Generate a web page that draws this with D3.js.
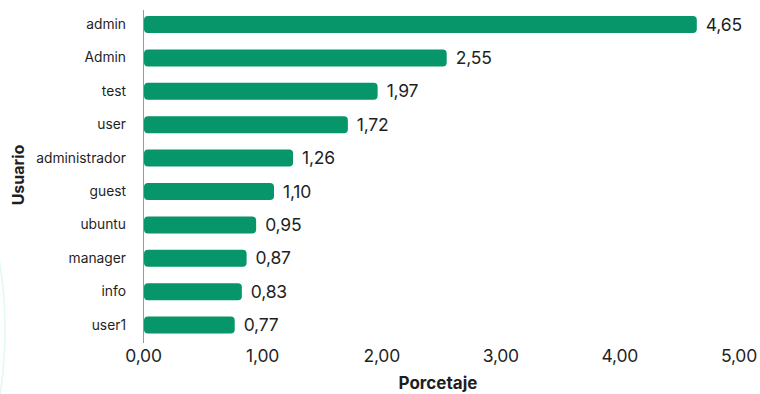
<!DOCTYPE html>
<html>
<head>
<meta charset="utf-8">
<script src="https://cdn.jsdelivr.net/npm/d3@7"></script>
<style>
  body { margin: 0; background: #fff; }
  svg text { font-family: Inter, "Noto Sans", sans-serif; fill: #1f1f1f; }
</style>
</head>
<body>
<div id="chart"></div>
<script>
const width = 760, height = 394;

// data
const usuarios = ["admin", "Admin", "test", "user", "administrador", "guest", "ubuntu", "manager", "info", "user1"];
const porcentajes = [4.65, 2.55, 1.97, 1.72, 1.26, 1.10, 0.95, 0.87, 0.83, 0.77];
const xTicks = [0, 1, 2, 3, 4, 5];

const rows = usuarios.map((u, i) => ({ usuario: u, valor: porcentajes[i] }));
const fmt = v => d3.format(".2f")(v).replace(".", ",");

const svg = d3.select("#chart").append("svg")
    .attr("width", width)
    .attr("height", height);

// faint decorative arc on the left edge
svg.append("circle")
    .attr("cx", -420).attr("cy", 330).attr("r", 425)
    .attr("fill", "none")
    .attr("stroke", "#e4f8ef")
    .attr("stroke-width", 1.5);

const x = d3.scaleLinear().domain([0, 5]).range([143, 738.5]);
const y = d3.scaleBand().domain(usuarios).range([7.8, 341.8]).paddingInner(0.49).paddingOuter(0.245);

// bars
svg.append("g").selectAll("rect")
    .data(rows).enter()
    .append("rect")
    .attr("x", x(0) + 1)
    .attr("y", d => y(d.usuario) + y.bandwidth() / 2 - 8.5)
    .attr("width", d => x(d.valor) - x(0) - 1)
    .attr("height", 17)
    .attr("rx", 4)
    .attr("fill", "#07956a");

// value labels
svg.append("g").selectAll("text")
    .data(rows).enter()
    .append("text")
    .attr("x", d => x(d.valor) + 9)
    .attr("y", d => y(d.usuario) + y.bandwidth() / 2)
    .attr("dy", "0.35em")
    .attr("font-size", 17.5)
    .attr("letter-spacing", -0.2)
    .text(d => fmt(d.valor));

// y axis
const yAxis = svg.append("g")
    .attr("transform", `translate(${x(0)},0)`)
    .call(d3.axisLeft(y).tickSize(0).tickPadding(17));
yAxis.select(".domain").attr("stroke", "#9a9a9a").attr("d", "M0.5,10V343");
yAxis.selectAll("text").attr("font-size", 13.8).attr("fill", "#1f1f1f");

// x axis
const xAxis = svg.append("g")
    .attr("transform", "translate(0,343)")
    .call(d3.axisBottom(x).tickValues(xTicks).tickFormat(fmt).tickSize(0).tickPadding(7));
xAxis.select(".domain").remove();
xAxis.selectAll("text").attr("font-size", 17.5).attr("letter-spacing", -0.2).attr("fill", "#1f1f1f");

// axis titles
svg.append("text")
    .attr("x", 438).attr("y", 389)
    .attr("text-anchor", "middle")
    .attr("font-size", 17)
    .attr("font-weight", 700)
    .text("Porcetaje");

svg.append("text")
    .attr("transform", "translate(24,175) rotate(-90)")
    .attr("text-anchor", "middle")
    .attr("font-size", 16)
    .attr("font-weight", 700)
    .text("Usuario");
</script>
</body>
</html>
